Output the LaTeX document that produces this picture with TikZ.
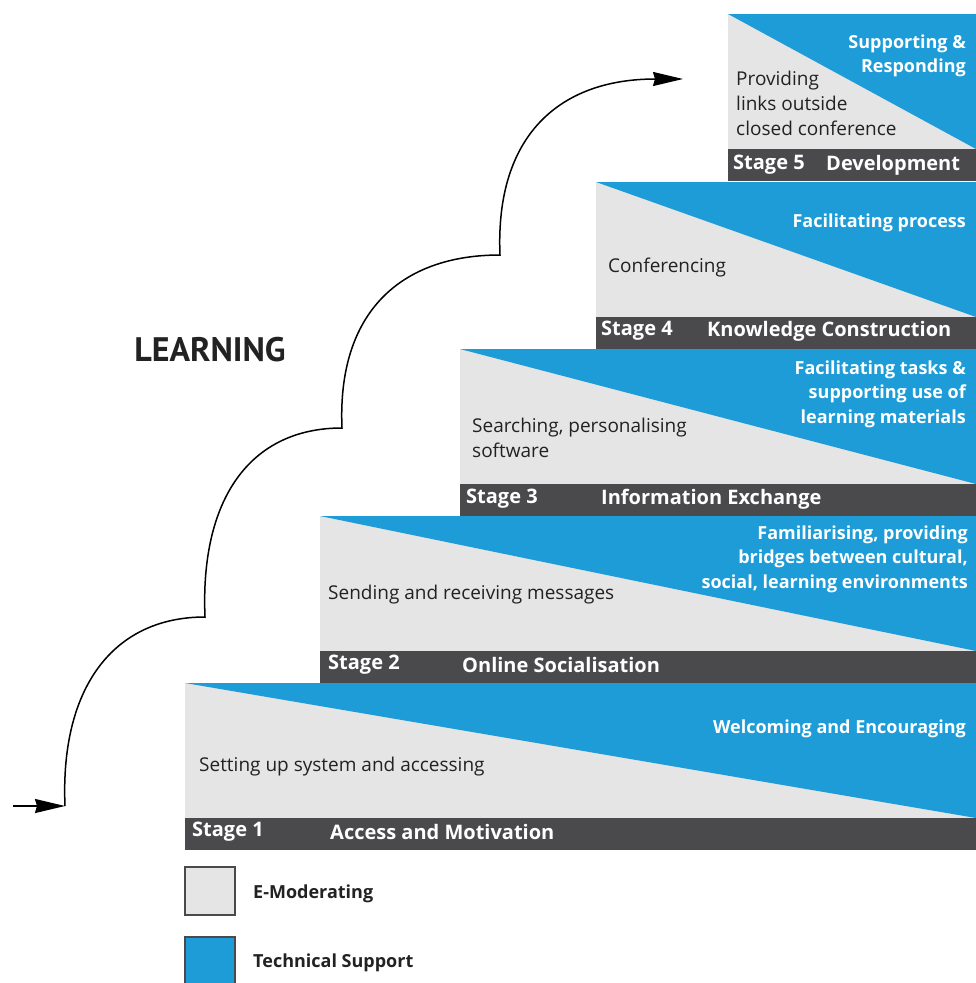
\documentclass[tikz,border=0pt]{standalone}
\usepackage{fontspec}
\setmainfont{Open Sans}
\newfontfamily\titlefont{PT Sans}
\usetikzlibrary{arrows.meta}
\definecolor{emod}{RGB}{229,229,229}
\definecolor{tech}{RGB}{30,156,216}
\definecolor{barc}{RGB}{74,74,76}
\definecolor{txt}{RGB}{34,34,34}
\tikzset{
  body/.style={inner sep=0pt, text=txt, font=\fontsize{19}{25}\selectfont},
  bluetxt/.style={inner sep=0pt, text=white, font=\bfseries\fontsize{18}{24.5}\selectfont, align=right, anchor=east},
  bartxt/.style={inner sep=0pt, text=white, font=\bfseries\fontsize{20}{22}\selectfont, anchor=west},
  legtxt/.style={inner sep=0pt, text=txt, font=\bfseries\fontsize{18}{22}\selectfont, anchor=west},
  flow/.style={line width=1.5pt, -{Stealth[length=30pt,width=14pt,inset=2pt]}},
  legbox/.style={draw=barc, line width=1.5pt}
}
\begin{document}
\begin{tikzpicture}[x=1pt,y=-1pt]
\useasboundingbox (0,0) rectangle (976,983);
% stages: left / top
\foreach \L/\T in {185/683, 320/516, 460/349, 596/182, 728/14}{
  \fill[emod] (\L,\T) rectangle (976,\T+135);
  \fill[tech] (\L,\T) -- (976,\T) -- (976,\T+135) -- cycle;
  \fill[barc] (\L,\T+135) rectangle (976,\T+167);
}
% stage 5
\node[bluetxt] (t5) at (966,56) {Supporting \&\\Responding};
\node[body, anchor=west, align=left] (e5) at (736,103) {Providing\\links outside\\closed conference};
\node[bartxt] (s5) at (733,165) {Stage 5};
\node[bartxt] (n5) at (826,165) {Development};
% stage 4
\node[bluetxt] (t4) at (966,223) {Facilitating process};
\node[body, anchor=west] (e4) at (608,268) {Conferencing};
\node[bartxt] (s4) at (601,331) {Stage 4};
\node[bartxt] (n4) at (707,331) {Knowledge Construction};
% stage 3
\node[bluetxt] (t3) at (966,394) {Facilitating tasks \&\\supporting use of\\learning materials};
\node[body, anchor=west, align=left] (e3) at (472,438) {Searching, personalising\\software};
\node[bartxt] (s3) at (466,499) {Stage 3};
\node[bartxt] (n3) at (601,499) {Information Exchange};
% stage 2
\node[bluetxt] (t2) at (968,559) {Familiarising, providing\\bridges between cultural,\\social, learning environments};
\node[body, anchor=west] (e2) at (328,595) {Sending and receiving messages};
\node[bartxt] (s2) at (328,665) {Stage 2};
\node[bartxt] (n2) at (462,665) {Online Socialisation};
% stage 1
\node[bluetxt] (t1) at (966,729) {Welcoming and Encouraging};
\node[body, anchor=west] (e1) at (199,767) {Setting up system and accessing};
\node[bartxt] (s1) at (192,832) {Stage 1};
\node[bartxt] (n1) at (330,832) {Access and Motivation};
% title
\node[inner sep=0pt, text=txt, font=\titlefont\bfseries\fontsize{34}{36}\selectfont] (learn) at (210,350) {LEARNING};
% legend
\draw[legbox, fill=emod] (185,867) rectangle (235,915);
\draw[legbox, fill=tech] (185,937) rectangle (235,990);
\node[legtxt] (l1) at (253,894) {E-Moderating};
\node[legtxt] (l2) at (253,963) {Technical Support};
% learning path
\coordinate (s0) at (13,806);
\coordinate (c0) at (65,806);
\coordinate (c1) at (205,617);
\coordinate (c2) at (342,428);
\coordinate (c3) at (500,255);
\coordinate (c4) at (683,79);
\draw[flow] (s0) -- (c0);
\draw[flow] (c0) .. controls +(-5,-118) and +(-92,0) .. (c1)
  .. controls +(-5,-118) and +(-92,0) .. (c2)
  .. controls +(-5,-115) and +(-100,0) .. (c3)
  .. controls +(-5,-118) and +(-125,0) .. (c4);
\end{tikzpicture}
\end{document}
